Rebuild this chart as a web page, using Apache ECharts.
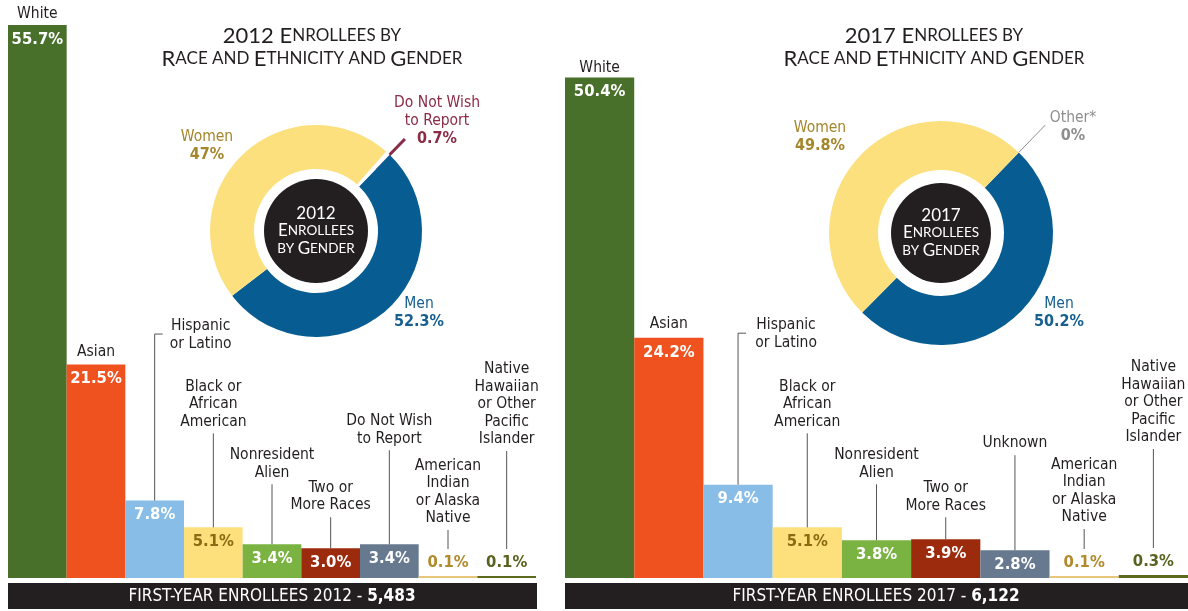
<!DOCTYPE html>
<html>
<head>
<meta charset="utf-8">
<title>Enrollees by Race and Ethnicity and Gender</title>
<script src="https://cdn.jsdelivr.net/npm/echarts@6/dist/echarts.min.js"></script>
<style>
html, body { margin: 0; background: #fff; }
#main { width: 1188px; height: 611px; }
</style>
</head>
<body>
<div id="main"></div>
<script>
// data
var years = ['2012', '2017'];
var totals = ['5,483', '6,122'];

var raceNames2012 = ['White', 'Asian', 'Hispanic\nor Latino', 'Black or\nAfrican\nAmerican',
    'Nonresident\nAlien', 'Two or\nMore Races', 'Do Not Wish\nto Report',
    'American\nIndian\nor Alaska\nNative', 'Native\nHawaiian\nor Other\nPacific\nIslander'];
var raceValues2012 = [55.7, 21.5, 7.8, 5.1, 3.4, 3.0, 3.4, 0.1, 0.1];

var raceNames2017 = ['White', 'Asian', 'Hispanic\nor Latino', 'Black or\nAfrican\nAmerican',
    'Nonresident\nAlien', 'Two or\nMore Races', 'Unknown',
    'American\nIndian\nor Alaska\nNative', 'Native\nHawaiian\nor Other\nPacific\nIslander'];
var raceValues2017 = [50.4, 24.2, 9.4, 5.1, 3.8, 3.9, 2.8, 0.1, 0.3];

var genderNames2012 = ['Men', 'Women', 'Do Not Wish\nto Report'];
var genderValues2012 = [52.3, 47, 0.7];
var genderNames2017 = ['Men', 'Women', 'Other*'];
var genderValues2017 = [50.2, 49.8, 0];

// styles / layout
var barColors = ['#48702b', '#f0521f', '#87bde6', '#fde07c', '#7ab342', '#9c2b0e', '#67798f', '#e9c77a', '#5d6b1f'];
var barLabelColors = ['#fff', '#fff', '#fff', '#8a6a12', '#fff', '#fff', '#fff', '#b08a2b', '#59631f'];
var nameRise2012 = [2, 4, 148, 97, 63, 34, 97, 49, 128];
var nameRise2017 = [1, 5, 133, 97, 59, 25, 98, 50, 129];
var nameShift2012 = [0, 0, 46, 0, 0, 0, 0, 0, 0];
var nameShift2017 = [0, 0, 48, 0, 0, 0, 0, 0, 0];
var genderColors2012 = ['#075d92', '#fce07e', '#ffffff'];
var genderColors2017 = ['#075d92', '#fce07e', '#ffffff'];
var genderLabelColors2012 = ['#17608f', '#a4862b', '#8b2b47'];
var genderLabelColors2017 = ['#17608f', '#a4862b', '#8e8e8e'];
var genderLabelPos2012 = [[419, 313], [207, 146], [437, 121]];
var genderLabelPos2017 = [[1059, 313], [820, 137], [1073, 127]];

var NARROW = "'Liberation Sans Narrow','DejaVu Sans Condensed',sans-serif";
var TITLEFONT = "Lato, 'Open Sans', sans-serif";
var INK = '#231f20';

// "2012 Enrollees by" -> rich text with small caps
function smallCaps(s) {
    return s.split('\n').map(function (line) {
        var out = '', cur = null, buf = '';
        for (var k = 0; k < line.length; k++) {
            var ch = line[k];
            var st = (ch !== ch.toUpperCase()) ? 's' : 'c';
            if (ch === ' ') st = cur || 'c';
            if (st !== cur) {
                if (buf) out += '{' + cur + '|' + buf + '}';
                buf = '';
                cur = st;
            }
            buf += ch.toUpperCase();
        }
        if (buf) out += '{' + cur + '|' + buf + '}';
        return out;
    }).join('\n');
}

function barSeries(idx, values) {
    return {
        type: 'bar', xAxisIndex: idx, yAxisIndex: idx,
        barCategoryGap: 0, barMinHeight: 2, silent: true,
        data: values.map(function (v, i) {
            var item = { value: v, itemStyle: { color: barColors[i] }, label: { color: barLabelColors[i] } };
            if (v < 1) { item.label.position = 'top'; item.label.distance = 5; }
            return item;
        }),
        label: {
            show: true, position: 'insideTop', distance: 6,
            fontFamily: NARROW, fontWeight: 'bold', fontSize: 16.5,
            formatter: function (p) { return p.value.toFixed(1) + '%'; }
        }
    };
}

function nameSeries(idx, names, values, rise, shift) {
    return {
        type: 'custom', xAxisIndex: idx, yAxisIndex: idx, silent: true, z: 5,
        data: values.map(function (v, i) { return [i, v]; }),
        renderItem: function (params, api) {
            var i = api.value(0);
            var top = api.coord([i, api.value(1)]);
            var barTop = Math.min(top[1], api.coord([i, 0])[1] - 2);
            var x = top[0];
            var bottom = barTop - rise[i];
            var nLines = names[i].split('\n').length;
            var kids = [{
                type: 'text',
                style: {
                    text: names[i], x: x + shift[i], y: bottom,
                    align: 'center', verticalAlign: 'bottom',
                    font: '15.5px ' + NARROW, lineHeight: 17.5, fill: INK
                }
            }];
            var lineStyle = { stroke: '#555', lineWidth: 1, fill: null };
            if (shift[i]) {
                var hy = bottom - (nLines - 1) * 17.5 - 1;
                kids.push({
                    type: 'polyline',
                    shape: { points: [[x, barTop], [x, hy], [x + 8, hy]] },
                    style: lineStyle
                });
            } else if (rise[i] > 10) {
                var end = api.value(1) < 1 ? barTop - 27 : barTop;
                kids.push({
                    type: 'line',
                    shape: { x1: x, y1: bottom + 3, x2: x, y2: end },
                    style: lineStyle
                });
            }
            return { type: 'group', children: kids };
        }
    };
}

function fmtPct(v) { return String(v) + '%'; }

function genderSeries(center, radius, names, values, colors, labelColors, labelPos, lineWidth) {
    var startAngle = 46;
    return {
        type: 'pie', center: center, radius: radius,
        startAngle: startAngle, clockwise: true, silent: true,
        avoidLabelOverlap: false, minShowLabelAngle: 0,
        data: values.map(function (v, i) {
            return {
                value: v, name: names[i],
                itemStyle: { color: colors[i] },
                label: {
                    color: labelColors[i],
                    rich: {
                        n: { fontFamily: NARROW, fontSize: 15.5, lineHeight: 18, color: labelColors[i] },
                        v: { fontFamily: NARROW, fontSize: 16, fontWeight: 'bold', lineHeight: 19, color: labelColors[i] }
                    }
                },
                labelLine: {
                    show: i === 2,
                    lineStyle: { color: labelColors[i], width: lineWidth }
                }
            };
        }),
        label: {
            show: true, position: 'outside', align: 'center',
            formatter: function (p) {
                return p.name.split('\n').map(function (s) { return '{n|' + s + '}'; }).join('\n') +
                    '\n{v|' + fmtPct(p.value) + '}';
            }
        },
        labelLayout: function (p) {
            var pos = labelPos[p.dataIndex];
            var a = startAngle * Math.PI / 180;
            var r0 = p.dataIndex === 2 && lineWidth > 2 ? radius[0] + 24 : radius[1];
            var r1 = radius[1] + (lineWidth > 2 ? 22 : 38);
            var pts = [
                [center[0] + r0 * Math.cos(a), center[1] - r0 * Math.sin(a)],
                [center[0] + (r0 + r1) / 2 * Math.cos(a), center[1] - (r0 + r1) / 2 * Math.sin(a)],
                [center[0] + r1 * Math.cos(a), center[1] - r1 * Math.sin(a)]
            ];
            return { x: pos[0], y: pos[1], align: 'center', verticalAlign: 'middle', labelLinePoints: pts };
        }
    };
}

function hubSeries(center, r, year) {
    return {
        type: 'pie', center: center, radius: [0, r], silent: true,
        data: [{ value: 1, name: year }],
        itemStyle: { color: INK },
        label: {
            show: true, position: 'center',
            formatter: smallCaps(year + '\nEnrollees\nby Gender'),
            rich: {
                c: { fontFamily: TITLEFONT, fontSize: 17, lineHeight: 17.5, color: '#fff' },
                s: { fontFamily: TITLEFONT, fontSize: 13.5, lineHeight: 17.5, color: '#fff' }
            }
        },
        labelLine: { show: false }
    };
}

var titleRich = {
    c: { fontFamily: TITLEFONT, fontSize: 22, fontWeight: 'normal', lineHeight: 23, color: INK },
    s: { fontFamily: TITLEFONT, fontSize: 17, fontWeight: 'normal', lineHeight: 23, color: INK }
};

var footRich = {
    n: { fontFamily: NARROW, fontSize: 17, fill: '#fff', color: '#fff' },
    b: { fontFamily: NARROW, fontSize: 17, fontWeight: 'bold', fill: '#fff', color: '#fff' }
};

var chart = echarts.init(document.getElementById('main'));
chart.setOption({
    backgroundColor: '#fff',
    animation: false,
    title: [
        { text: smallCaps(years[0] + ' Enrollees by\nRace and Ethnicity and Gender'), left: 307, top: 19, textAlign: 'center', textStyle: { fontWeight: 'normal', rich: titleRich } },
        { text: smallCaps(years[1] + ' Enrollees by\nRace and Ethnicity and Gender'), left: 929, top: 19, textAlign: 'center', textStyle: { fontWeight: 'normal', rich: titleRich } }
    ],
    grid: [
        { left: 8, width: 528, top: 22, bottom: 33 },
        { left: 565, width: 627, top: 22, bottom: 33 }
    ],
    xAxis: [
        { type: 'category', gridIndex: 0, data: raceNames2012, show: false },
        { type: 'category', gridIndex: 1, data: raceNames2017, show: false }
    ],
    yAxis: [
        { type: 'value', gridIndex: 0, min: 0, max: 56, show: false, splitLine: { show: false } },
        { type: 'value', gridIndex: 1, min: 0, max: 56, show: false, splitLine: { show: false } }
    ],
    graphic: [
        { type: 'rect', shape: { x: 8, y: 583, width: 529, height: 26 }, style: { fill: INK }, silent: true },
        { type: 'rect', shape: { x: 565, y: 583, width: 623, height: 26 }, style: { fill: INK }, silent: true },
        { type: 'text', x: 272, y: 597, style: { text: '{n|FIRST-YEAR ENROLLEES ' + years[0] + ' - }{b|' + totals[0] + '}', rich: footRich, align: 'center', verticalAlign: 'middle' }, silent: true },
        { type: 'text', x: 876, y: 597, style: { text: '{n|FIRST-YEAR ENROLLEES ' + years[1] + ' - }{b|' + totals[1] + '}', rich: footRich, align: 'center', verticalAlign: 'middle' }, silent: true }
    ],
    series: [
        barSeries(0, raceValues2012),
        barSeries(1, raceValues2017),
        nameSeries(0, raceNames2012, raceValues2012, nameRise2012, nameShift2012),
        nameSeries(1, raceNames2017, raceValues2017, nameRise2017, nameShift2017),
        genderSeries([316, 231], [62, 106], genderNames2012, genderValues2012, genderColors2012, genderLabelColors2012, genderLabelPos2012, 3),
        genderSeries([941, 233], [63, 112], genderNames2017, genderValues2017, genderColors2017, genderLabelColors2017, genderLabelPos2017, 1),
        hubSeries([316, 231], 52, years[0]),
        hubSeries([941, 233], 50, years[1])
    ]
});
</script>
</body>
</html>
